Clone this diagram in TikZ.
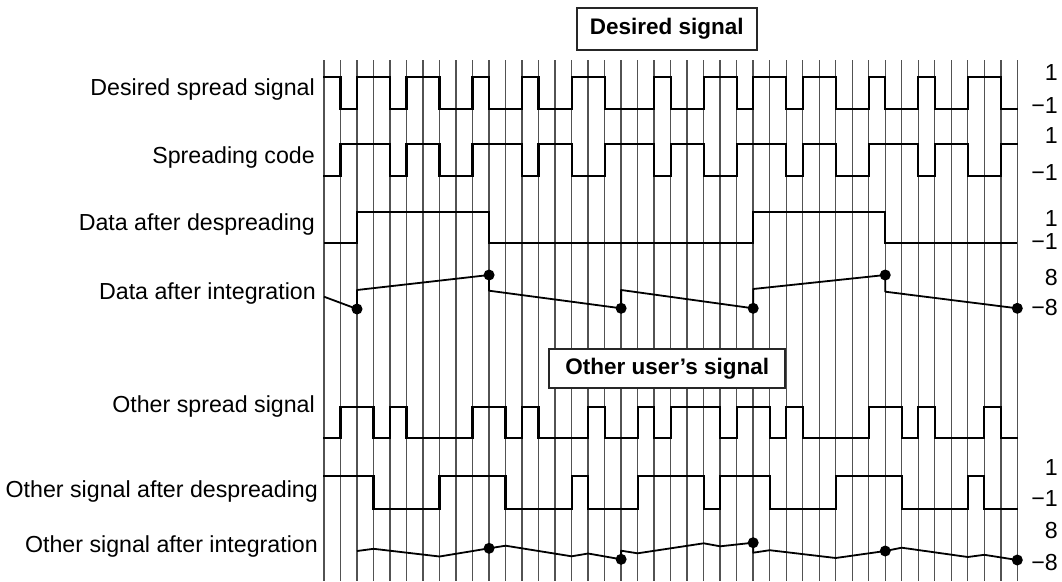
\documentclass[tikz,border=0pt]{standalone}
\usepackage{fontspec}
\setmainfont{Liberation Sans}
\newcommand\sqwave[3]{%
  \foreach \bt [count=\i from 0, remember=\bt as \pv (initially 2)] in {#1}{%
    \pgfmathsetmacro\yy{\bt==1 ? #2 : #3}%
    \draw[wave] (\i,\yy) -- ({\i+1},\yy);
    \ifnum\pv=2 \else\ifnum\pv=\bt\else\draw[wave] (\i,#2) -- (\i,#3);\fi\fi
  }%
}
\begin{document}
\begin{tikzpicture}[x=1pt,y=-1pt,
  lab/.style={font=\fontsize{23.2}{27}\selectfont, inner sep=0pt, anchor=mid east},
  rlab/.style={font=\fontsize{23.2}{27}\selectfont, inner sep=0pt, anchor=mid east},
  title/.style={draw=black!85, line width=1.8pt, fill=white, inner sep=0pt,
    font=\fontsize{22.5}{26}\selectfont\bfseries},
  gridline/.style={draw=black!68, line width=1.4pt},
  wave/.style={line width=2.2pt, line cap=rect},
  dwave/.style={line width=1.7pt, line join=miter},
  integ/.style={line width=1.8pt, line join=round},
  dot/.style={circle, fill=black, inner sep=0pt, minimum size=11pt}
]
\useasboundingbox (0,0) rectangle (1062,581);
\fill[white] (0,0) rectangle (1062,581);

% left labels
\node[lab] (l1) at (315,93) {Desired spread signal};
\node[lab] (l2) at (315,161) {Spreading code};
\node[lab] (l3) at (315,228) {Data after despreading};
\node[lab] (l4) at (316,297) {Data after integration};
\node[lab] (l5) at (315,410) {Other spread signal};
\node[lab] (l6) at (318,495) {Other signal after despreading};
\node[lab] (l7) at (318,550) {Other signal after integration};

% right labels
\node[rlab] (r1) at (1058,78) {1};
\node[rlab] (r2) at (1058,111) {−1};
\node[rlab] (r3) at (1058,141) {1};
\node[rlab] (r4) at (1058,178) {−1};
\node[rlab] (r5) at (1058,224) {1};
\node[rlab] (r6) at (1058,247) {−1};
\node[rlab] (r7) at (1058,283) {8};
\node[rlab] (r8) at (1058,313) {−8};
\node[rlab] (r9) at (1058,473) {1};
\node[rlab] (r10) at (1058,504) {−1};
\node[rlab] (r11) at (1058,536) {8};
\node[rlab] (r12) at (1058,568) {−8};

\begin{scope}[xshift=324pt, x=16.507pt]
  % grid
  \foreach \k in {0,...,42} \draw[gridline] (\k,60) -- (\k,581);
  % desired spread signal
  \sqwave{1,0,1,1,0,1,1,0,0,1,0,0,1,0,0,1,1,0,0,0,1,0,0,1,1,0,1,1,0,1,1,0,0,1,0,0,1,0,0,1,1,0}{76.7}{109.3}
  % spreading code
  \sqwave{0,1,1,1,0,1,1,0,0,1,1,1,0,1,1,0,0,1,1,1,0,1,1,0,0,1,1,1,0,1,1,0,0,1,1,1,0,1,1,0,0,1}{144.3}{176}
  % data after despreading
  \draw[dwave] (0,243.3) -- (2,243.3) -- (2,211.7) -- (10,211.7) -- (10,243.3)
     -- (26,243.3) -- (26,211.7) -- (34,211.7) -- (34,243.3) -- (42,243.3);
  % data after integration
  \draw[integ] (0,296.7) -- (2,309) -- (2,290) -- (10,275) -- (10,290.7) -- (18,308.3)
     -- (18,290) -- (26,308.3) -- (26,289) -- (34,275) -- (34,291.7) -- (42,308.3);
  \node[dot] (a1) at (2,309) {};
  \node[dot] (a2) at (10,275) {};
  \node[dot] (a3) at (18,308.3) {};
  \node[dot] (a4) at (26,308.3) {};
  \node[dot] (a5) at (34,275) {};
  \node[dot] (a6) at (42,308.3) {};
  % other spread signal
  \sqwave{0,1,1,0,1,0,0,0,0,1,1,0,1,0,0,0,1,0,0,1,0,1,1,1,0,1,1,0,1,0,0,0,0,1,1,0,1,0,0,0,1,0}{406.7}{437.7}
  % other signal after despreading
  \sqwave{1,1,1,0,0,0,0,1,1,1,1,0,0,0,0,1,0,0,0,1,1,1,1,0,1,1,1,0,0,0,0,1,1,1,1,0,0,0,0,1,0,0}{476}{509.3}
  % other signal after integration
  \draw[integ] (2,551) -- (3,548.8) -- (7,556.5) -- (10,548.3) -- (11,545.7) -- (15,556.3)
     -- (16,553.5) -- (18,559.3) -- (18,550.7) -- (19,553.3) -- (23,543.3) -- (24,546.3)
     -- (26,542.7) -- (26,552.7) -- (27,550.2) -- (31,558) -- (34,551) -- (35,547.7)
     -- (39,557) -- (40,554.8) -- (42,560);
  \node[dot] (b1) at (10,548.3) {};
  \node[dot] (b2) at (18,559.3) {};
  \node[dot] (b3) at (26,542.7) {};
  \node[dot] (b4) at (34,551) {};
  \node[dot] (b5) at (42,560) {};
\end{scope}

% title boxes
\node[title, minimum width=180pt, minimum height=41.7pt] (t1) at (666.7,29.2) {Desired signal};
\node[title, minimum width=235.7pt, minimum height=38.4pt] (t2) at (667.2,368.5) {Other user's signal};
\end{tikzpicture}
\end{document}
